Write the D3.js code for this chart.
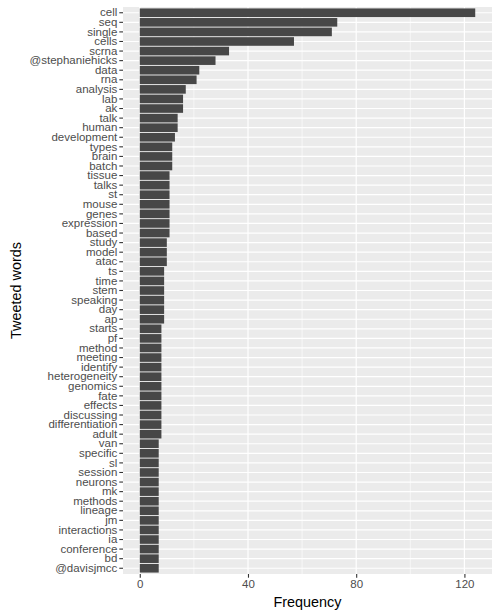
<!DOCTYPE html>
<html><head><meta charset="utf-8">
<script src="https://cdn.jsdelivr.net/npm/d3@7"></script>
<style>body{margin:0;background:#fff}svg{display:block}text{font-family:"Liberation Sans",Arial,sans-serif}</style>
</head><body>
<svg id="c" width="499" height="616"></svg>
<script>
const words = ["cell","seq","single","cells","scrna","@stephaniehicks","data","rna","analysis","lab","ak","talk","human","development","types","brain","batch","tissue","talks","st","mouse","genes","expression","based","study","model","atac","ts","time","stem","speaking","day","ap","starts","pf","method","meeting","identify","heterogeneity","genomics","fate","effects","discussing","differentiation","adult","van","specific","sl","session","neurons","mk","methods","lineage","jm","interactions","ia","conference","bd","@davisjmcc"];
const counts = [124,73,71,57,33,28,22,21,17,16,16,14,14,13,12,12,12,11,11,11,11,11,11,11,10,10,10,9,9,9,9,9,9,8,8,8,8,8,8,8,8,8,8,8,8,7,7,7,7,7,7,7,7,7,7,7,7,7,7];
const xTicks = [0,40,80,120];
const xMinor = [20,60,100];
const xTitle = "Frequency", yTitle = "Tweeted words";

const svg = d3.select("#c");
const L = 123, R = 492, T = 7, B = 574;
const maxV = d3.max(counts);
const x = d3.scaleLinear().domain([-0.05*maxV, 1.05*maxV]).range([L, R]);
const y = d3.scaleBand().domain(words).range([T, B]).paddingInner(0.1).paddingOuter(0.15);

svg.append("rect").attr("x",L).attr("y",T).attr("width",R-L).attr("height",B-T).attr("fill","#EBEBEB");
const g = svg.append("g");
g.selectAll(".mn").data(xMinor).join("line").attr("x1",d=>x(d)).attr("x2",d=>x(d)).attr("y1",T).attr("y2",B).attr("stroke","#fff").attr("stroke-width",0.6);
g.selectAll(".mj").data(xTicks).join("line").attr("x1",d=>x(d)).attr("x2",d=>x(d)).attr("y1",T).attr("y2",B).attr("stroke","#fff").attr("stroke-width",1.2);
g.selectAll(".hy").data(words).join("line").attr("x1",L).attr("x2",R).attr("y1",d=>y(d)+y.bandwidth()/2).attr("y2",d=>y(d)+y.bandwidth()/2).attr("stroke","#fff").attr("stroke-width",1.2);

svg.selectAll(".bar").data(words).join("rect")
  .attr("x", x(0)).attr("y", d=>y(d)).attr("height", y.bandwidth())
  .attr("width", (d,i)=>x(counts[i])-x(0)).attr("fill","#474747");

// y axis
const ya = svg.append("g").attr("transform",`translate(${L},0)`).call(d3.axisLeft(y).tickSize(3.7).tickPadding(2));
ya.select(".domain").remove();
ya.selectAll("line").attr("stroke","#333").attr("stroke-width",1.1);
ya.selectAll("text").attr("fill","#4D4D4D").attr("font-size","11.5px").attr("font-family","Liberation Sans, Arial, sans-serif");

// x axis
const xa = svg.append("g").attr("transform",`translate(0,${B})`).call(d3.axisBottom(x).tickValues(xTicks).tickFormat(d3.format("d")).tickSize(3.7).tickPadding(2));
xa.select(".domain").remove();
xa.selectAll("line").attr("stroke","#333").attr("stroke-width",1.1);
xa.selectAll("text").attr("fill","#4D4D4D").attr("font-size","11.5px").attr("font-family","Liberation Sans, Arial, sans-serif");

svg.append("text").attr("x",(L+R)/2).attr("y",607).attr("text-anchor","middle").attr("font-size","14.4px").attr("fill","#000").text(xTitle);
svg.append("text").attr("transform",`translate(21,${(T+B)/2}) rotate(-90)`).attr("text-anchor","middle").attr("font-size","14.4px").attr("fill","#000").text(yTitle);
</script>
</body></html>
